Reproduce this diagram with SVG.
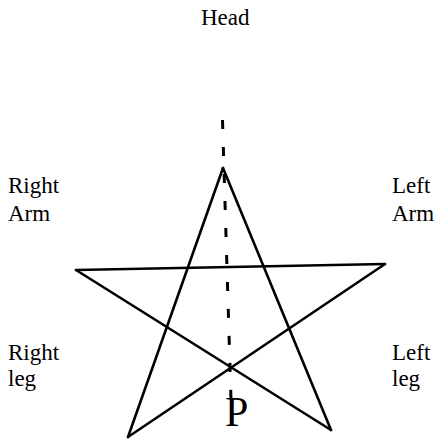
<svg xmlns="http://www.w3.org/2000/svg" width="437" height="442" viewBox="0 0 437 442">
<style>
.lbl{font-family:"Liberation Serif","Times New Roman",serif;font-size:23px;fill:#000}
.edge{stroke:#000;stroke-width:2.6;fill:none;stroke-linecap:round;stroke-linejoin:round}
.dash{stroke:#000;stroke-width:3;fill:none;stroke-dasharray:9 18}
</style>
<rect width="437" height="442" fill="#fff"/>
<g id="connectors">
<line class="edge" x1="223" y1="168" x2="128" y2="437"/>
<line class="edge" x1="223" y1="168" x2="331" y2="430"/>
<line class="edge" x1="76" y1="270" x2="385" y2="264"/>
<line class="edge" x1="76" y1="270" x2="331" y2="430"/>
<line class="edge" x1="385" y1="264" x2="128" y2="437"/>
<line class="dash" x1="222.5" y1="120" x2="231" y2="400"/>
</g>
<g id="head"><text class="lbl" x="201" y="25">Head</text></g>
<g id="right-arm"><text class="lbl" x="8" y="193">Right</text><text class="lbl" x="8" y="221">Arm</text></g>
<g id="left-arm"><text class="lbl" x="392" y="193">Left</text><text class="lbl" x="392" y="221">Arm</text></g>
<g id="right-leg"><text class="lbl" x="8" y="360">Right</text><text class="lbl" x="8" y="386">leg</text></g>
<g id="left-leg"><text class="lbl" x="392" y="360">Left</text><text class="lbl" x="392" y="386">leg</text></g>
<g id="p"><text class="lbl" x="225" y="426" style="font-size:42px">P</text></g>
</svg>
